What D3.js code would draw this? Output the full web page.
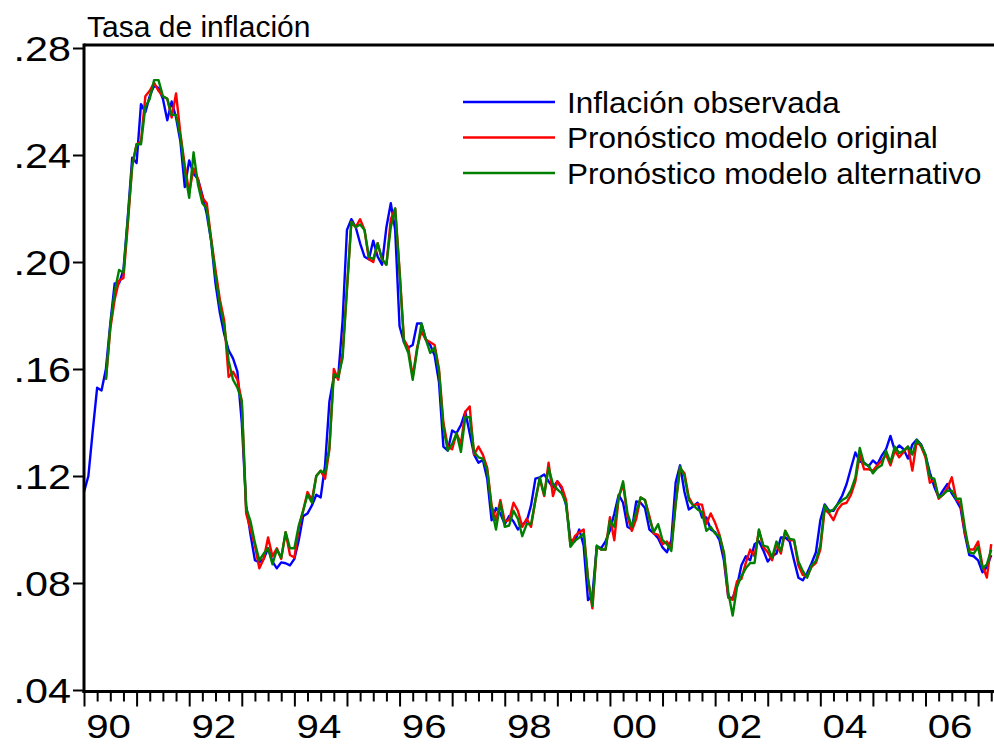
<!DOCTYPE html>
<html>
<head>
<meta charset="utf-8">
<script src="https://cdn.jsdelivr.net/npm/d3@7"></script>
<style>
  body { margin: 0; background: #fff; }
  svg { display: block; }
  text { font-family: "Liberation Sans", Arial, Helvetica, sans-serif; fill: #000; }
</style>
</head>
<body>
<div id="chart"></div>
<script>
// monthly series, 1990M01 .. 2007M04 (one row per year)
const startYear = 1990;

const observed = [
  .114, .120, .137, .153, .152, .160, .177, .192, .192, .197, .217, .239,
  .237, .259, .256, .262, .266, .265, .261, .253, .260, .254, .245, .228,
  .238, .233, .231, .225, .218, .208, .192, .181, .173, .167, .164, .159,
  .140, .109, .098, .0885, .0877, .089, .093, .088, .0855, .0877, .0874, .0866,
  .089, .096, .105, .106, .109, .113, .112, .124, .148, .157, .157, .178,
  .212, .216, .213, .207, .202, .201, .208, .202, .199, .213, .222, .212,
  .176, .170, .168, .169, .177, .177, .171, .169, .165, .155, .131, .1295,
  .137, .136, .139, .144, .136, .128, .125, .126, .119, .1034, .108, .106,
  .102, .105, .103, .100, .102, .103, .109, .119, .1195, .1206, .118, .1157,
  .118, .1153, .109, .096, .0956, .100, .094, .0736, .0754, .0937, .093, .0956,
  .0997, .106, .113, .110, .101, .100, .1105, .110, .108, .100, .0986, .0967,
  .0933, .0915, .096, .1176, .124, .114, .1075, .1086, .110, .1045, .1045, .100,
  .099, .096, .0885, .0747, .0743, .0788, .0866, .090, .0885, .0945, .0956, .0922,
  .088, .090, .091, .097, .097, .0956, .0885, .082, .081, .0837, .0874, .0915,
  .1034, .1094, .107, .107, .1097, .1127, .117, .123, .1288, .1254, .125, .1236,
  .1258, .1243, .1276, .130, .135, .1295, .1314, .130, .1265, .1318, .1336, .1318,
  .1276, .1213, .116, .112, .1146, .117, .1135, .111, .108, .098, .0904, .090,
  .0885, .084, .086, .0904
];

const forecastOriginal = [
  null, null, null, null, null, .156, .175, .186, .193, .194, .214, .236,
  .244, .245, .262, .264, .267, .264, .262, .261, .254, .263, .248, .236,
  .226, .235, .231, .224, .222, .209, .197, .186, .178, .157, .159, .156,
  .148, .106, .100, .094, .0855, .089, .097, .090, .093, .089, .099, .0905,
  .0895, .1005, .107, .114, .111, .120, .122, .119, .130, .160, .156, .166,
  .190, .215, .213, .216, .212, .201, .200, .207, .201, .199, .216, .220,
  .197, .171, .168, .157, .168, .174, .171, .170, .169, .160, .140, .131,
  .130, .136, .132, .144, .146, .128, .131, .128, .123, .109, .1034, .111,
  .103, .1035, .110, .107, .101, .104, .101, .111, .119, .1125, .125, .1125,
  .118, .116, .111, .094, .0975, .099, .100, .0815, .0705, .0935, .0925, .0925,
  .1046, .096, .112, .117, .105, .0995, .104, .112, .111, .105, .0985, .098,
  .0945, .0955, .093, .110, .123, .121, .112, .109, .1095, .1093, .102, .106,
  .1025, .098, .091, .0745, .0737, .0806, .0815, .0875, .0925, .090, .0996, .0935,
  .0915, .0885, .0945, .091, .0995, .096, .096, .0865, .083, .0825, .086, .0875,
  .0925, .1075, .106, .1035, .1075, .1095, .110, .113, .118, .128, .1225, .1225,
  .122, .124, .1257, .128, .124, .1295, .127, .129, .131, .122, .133, .131,
  .127, .1175, .1185, .1115, .113, .1155, .1195, .1115, .1095, .0985, .0925, .0925,
  .0955, .0865, .082, .0945
];

const forecastAlternative = [
  null, null, null, null, null, .156, .176, .189, .197, .196, .216, .236,
  .244, .244, .258, .261, .268, .268, .262, .261, .255, .255, .247, .234,
  .224, .241, .229, .222, .220, .208, .195, .184, .176, .163, .156, .153,
  .148, .108, .103, .095, .0885, .091, .093, .087, .0925, .0895, .099, .093,
  .093, .1015, .107, .113, .110, .120, .122, .121, .131, .158, .157, .164,
  .190, .215, .213, .214, .212, .202, .201, .207, .201, .199, .213, .220,
  .196, .170, .166, .156, .167, .177, .171, .166, .168, .159, .138, .1295,
  .132, .136, .129, .142, .142, .129, .127, .1265, .122, .108, .100, .110,
  .101, .1015, .107, .104, .0975, .102, .102, .111, .1195, .113, .123, .117,
  .115, .1135, .1097, .0935, .0958, .097, .0985, .0815, .0715, .094, .0925, .0925,
  .1034, .101, .112, .118, .106, .101, .1065, .112, .111, .104, .099, .102,
  .096, .0945, .092, .1095, .1235, .120, .111, .109, .1075, .1065, .0995, .101,
  .0985, .0975, .0915, .0766, .0678, .0786, .0826, .0855, .0875, .0875, .100, .094,
  .0935, .0895, .0955, .092, .0995, .0965, .0962, .088, .0845, .082, .0865, .0883,
  .094, .109, .1065, .1075, .1095, .111, .112, .1147, .1195, .1305, .1245, .124,
  .121, .123, .124, .1295, .125, .131, .1285, .1295, .131, .128, .1335, .1315,
  .128, .1195, .119, .112, .113, .1145, .1145, .1115, .1115, .1005, .0915, .091,
  .0935, .0855, .087, .0925
];

const seriesNames = ['Inflación observada', 'Pronóstico modelo original', 'Pronóstico modelo alternativo'];
const seriesColors = ['#0000ff', '#ff0000', '#008000'];
const yTicks = [0.04, 0.08, 0.12, 0.16, 0.20, 0.24, 0.28];
const labelYears = [1990, 1992, 1994, 1996, 1998, 2000, 2002, 2004, 2006];
const chartTitle = 'Tasa de inflación';

const width = 994, height = 745;
const plot = { left: 84, right: 993, top: 45, y28: 48, y04: 690 };

const svg = d3.select('#chart').append('svg')
  .attr('width', width)
  .attr('height', height)
  .attr('viewBox', `0 0 ${width} ${height}`);

// month index -> x
const x = d3.scaleLinear().domain([0, 207.4]).range([plot.left, plot.right]);
const y = d3.scaleLinear().domain([0.04, 0.28]).range([plot.y04, plot.y28]);

const nMonths = observed.length;
const monthIdx = d3.range(nMonths);

// frame: top border
svg.append('line')
  .attr('x1', plot.left).attr('x2', width)
  .attr('y1', plot.top).attr('y2', plot.top)
  .attr('stroke', '#000').attr('stroke-width', 3);

// series
const line = d3.line()
  .defined(d => d[1] != null)
  .x(d => x(d[0]))
  .y(d => y(d[1]));

const allSeries = [observed, forecastOriginal, forecastAlternative];
const lineG = svg.append('g').attr('fill', 'none').attr('stroke-width', 2.4).attr('stroke-linejoin', 'round');
allSeries.forEach((vals, i) => {
  lineG.append('path')
    .datum(monthIdx.map(m => [m, vals[m]]))
    .attr('stroke', seriesColors[i])
    .attr('d', line);
});

// y axis
const fmt = v => d3.format('.2f')(v).replace(/^0/, '');
const yAxis = svg.append('g')
  .attr('transform', `translate(${plot.left},0)`)
  .call(d3.axisLeft(y).tickValues(yTicks).tickSize(11).tickSizeOuter(0).tickFormat(fmt));
yAxis.select('.domain').remove();
yAxis.selectAll('.tick line').attr('stroke', '#000').attr('stroke-width', 2);
yAxis.selectAll('.tick text')
  .attr('x', null).attr('dy', null)
  .attr('font-size', 35)
  .attr('font-family', '"Liberation Sans", Arial, sans-serif')
  .attr('transform', 'translate(-13,12.5) scale(1.18,1)');

svg.append('line')
  .attr('x1', plot.left).attr('x2', plot.left)
  .attr('y1', plot.top - 1.5).attr('y2', 693)
  .attr('stroke', '#000').attr('stroke-width', 3);

// x axis: quarter ticks, year ticks, labels
const axisY = 691.5;
const quarterTicks = d3.range(0, nMonths, 3).filter(m => m % 12 !== 0);
const yearTicks = d3.range(0, nMonths, 12);

const xMinor = svg.append('g')
  .attr('transform', `translate(0,${axisY})`)
  .call(d3.axisBottom(x).tickValues(quarterTicks).tickSize(10).tickFormat(''));
xMinor.select('.domain').remove();
xMinor.selectAll('.tick line').attr('stroke', '#000').attr('stroke-width', 2);

const xMajor = svg.append('g')
  .attr('transform', `translate(0,${axisY})`)
  .call(d3.axisBottom(x).tickValues(yearTicks).tickSize(15).tickFormat(''));
xMajor.select('.domain').remove();
xMajor.selectAll('.tick line').attr('stroke', '#000').attr('stroke-width', 2);

const xLab = svg.append('g')
  .attr('transform', `translate(0,${axisY})`)
  .call(d3.axisBottom(x)
    .tickValues(labelYears.map(yr => (yr - startYear) * 12 + 5.5))
    .tickSize(0)
    .tickFormat(m => String(Math.floor(startYear + m / 12) % 100).padStart(2, '0')));
xLab.select('.domain').remove();
xLab.selectAll('.tick text')
  .attr('y', null).attr('dy', null)
  .attr('font-size', 33)
  .attr('font-family', '"Liberation Sans", Arial, sans-serif')
  .attr('transform', 'translate(0,46) scale(1.22,1)');

svg.append('line')
  .attr('x1', plot.left - 1.5).attr('x2', width)
  .attr('y1', axisY).attr('y2', axisY)
  .attr('stroke', '#000').attr('stroke-width', 3);

// title
svg.append('text')
  .attr('x', 87).attr('y', 37)
  .attr('font-size', 30)
  .text(chartTitle);

// legend
const legend = svg.append('g');
seriesNames.forEach((name, i) => {
  const ly = 102 + i * 35.5;
  legend.append('line')
    .attr('x1', 463).attr('x2', 555)
    .attr('y1', ly).attr('y2', ly)
    .attr('stroke', seriesColors[i]).attr('stroke-width', 2.4);
  legend.append('text')
    .attr('transform', `translate(567,${ly + 10.5}) scale(1.085,1)`)
    .attr('font-size', 29)
    .text(name);
});
</script>
</body>
</html>
